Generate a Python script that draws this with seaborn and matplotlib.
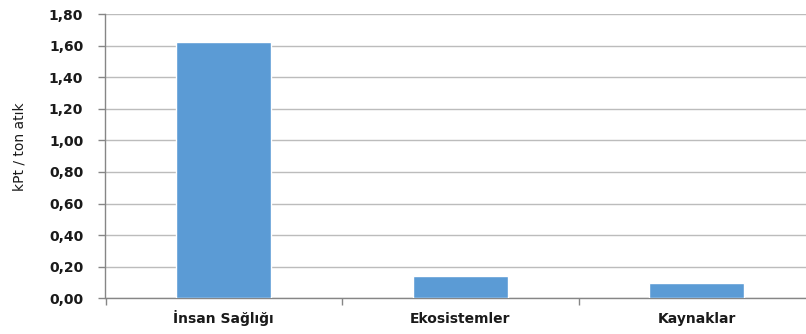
import matplotlib
matplotlib.use("Agg")
import matplotlib.pyplot as plt
from matplotlib.ticker import FixedLocator, FuncFormatter
import seaborn as sns
import pandas as pd

# Damage category scores per ton of waste
categories = ["İnsan Sağlığı", "Ekosistemler", "Kaynaklar"]
values = [1.62, 0.14, 0.10]
y_ticks = [0.0, 0.2, 0.4, 0.6, 0.8, 1.0, 1.2, 1.4, 1.6, 1.8]

df = pd.DataFrame({"kategori": categories, "deger": values})

sns.set_theme(style="white")
plt.rcParams["font.family"] = ["DejaVu Sans"]

W, H = 806, 334
fig = plt.figure(figsize=(W / 100, H / 100), dpi=100)
left, right, bottom, top = 105.5, 815.0, 298.3, 14.0
ax = fig.add_axes([left / W, (H - bottom) / H, (right - left) / W, (bottom - top) / H])

sns.barplot(data=df, x="kategori", y="deger", color="#5b9bd5", saturation=1,
            width=0.4, ax=ax, zorder=3)

ax.set_xlim(-0.5, len(categories) - 0.5)
ax.set_ylim(0, 1.8)
ax.yaxis.set_major_locator(FixedLocator(y_ticks))
ax.yaxis.set_major_formatter(FuncFormatter(lambda v, p: f"{v:.2f}".replace(".", ",")))
ax.yaxis.grid(True, color="#bcbcbc", linewidth=1.0, zorder=0)
ax.xaxis.grid(False)

for s in ["top", "right"]:
    ax.spines[s].set_visible(False)
for s in ["left", "bottom"]:
    ax.spines[s].set_color("#868686")
    ax.spines[s].set_linewidth(1.0)

ax.tick_params(axis="y", which="major", left=True, length=5, width=1,
               color="#868686", labelsize=10, pad=11)
ax.tick_params(axis="x", which="major", bottom=False, length=0, labelsize=10, pad=17.5)
ax.set_xticks([-0.5, 0.5, 1.5], minor=True)
ax.tick_params(axis="x", which="minor", bottom=True, length=5, width=1, color="#868686")

for lab in ax.get_yticklabels() + ax.get_xticklabels():
    lab.set_fontweight("bold")
    lab.set_color("#1a1a1a")
# category names share a common baseline
for lab in ax.get_xticklabels():
    lab.set_verticalalignment("baseline")

ax.set_xlabel("")
ax.set_ylabel("kPt / ton atık", fontsize=10, color="#1a1a1a")
ax.yaxis.set_label_coords((27 - left) / (right - left), (bottom - 147) / (bottom - top))

fig.savefig("out.png", dpi=100, facecolor="white")
